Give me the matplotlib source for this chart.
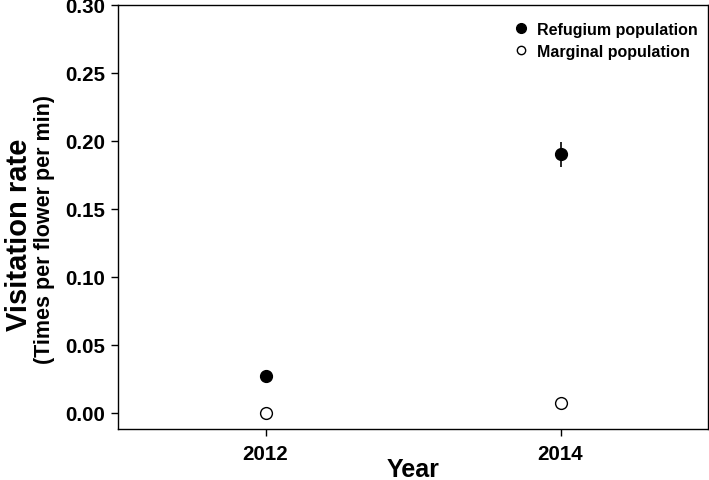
import matplotlib
matplotlib.use("Agg")
import matplotlib.pyplot as plt
from matplotlib.lines import Line2D

years = [2012, 2014]
refugium = [0.027, 0.190]
refugium_err = [0.0, 0.009]
marginal = [0.0, 0.0075]
yticks = [0.00, 0.05, 0.10, 0.15, 0.20, 0.25, 0.30]

plt.rcParams['font.family'] = ['Liberation Sans', 'DejaVu Sans']
plt.rcParams['font.weight'] = 'bold'

W, H = 709, 481
fig = plt.figure(figsize=(W / 100, H / 100), dpi=100)
ax = fig.add_axes([118 / W, 1 - 430 / H, 590 / W, 424 / H])

ax.errorbar(years, refugium, yerr=refugium_err, fmt='o', color='black',
            markersize=8.5, elinewidth=1.2, capsize=0, zorder=3)
ax.plot(years, marginal, 'o', markerfacecolor='white', markeredgecolor='black',
        markeredgewidth=1.0, markersize=8.5, linestyle='none', zorder=3)

ax.set_xlim(2011, 2015)
ax.set_ylim(-0.012, 0.30)
ax.set_xticks(years)
ax.set_xticklabels([str(y) for y in years])
ax.set_yticks(yticks)
ax.set_yticklabels([f"{v:.2f}" for v in yticks])
ax.tick_params(axis='both', labelsize=14.8, length=5, width=1, direction='out')
ax.tick_params(axis='x', pad=6)
ax.tick_params(axis='y', pad=4)
for lbl in ax.get_xticklabels() + ax.get_yticklabels():
    lbl.set_fontweight('bold')
for s in ax.spines.values():
    s.set_linewidth(1.0)

# axis labels
fig.text(413 / W, 1 - 477 / H, 'Year', fontsize=18, fontweight='bold',
         ha='center', va='baseline')
fig.text(27 / W, 1 - 235 / H, 'Visitation rate', fontsize=21, fontweight='bold',
         rotation=90, rotation_mode='anchor', ha='center', va='baseline')
fig.text(50 / W, 1 - 230 / H, '(Times per flower per min)', fontsize=15.5, fontweight='bold',
         rotation=90, rotation_mode='anchor', ha='center', va='baseline')

handles = [
    Line2D([], [], marker='o', linestyle='none', color='black', markersize=7),
    Line2D([], [], marker='o', linestyle='none', markerfacecolor='white',
           markeredgecolor='black', markeredgewidth=1.0, markersize=6),
]
leg = ax.legend(handles, ['Refugium population', 'Marginal population'],
                loc='upper right', bbox_to_anchor=(0.983, 0.960), frameon=False,
                fontsize=11.5, handletextpad=0.6, borderaxespad=0, borderpad=0,
                labelspacing=0.42, handlelength=0.8)
for t in leg.get_texts():
    t.set_fontweight('bold')

fig.savefig('out.png', dpi=100)
